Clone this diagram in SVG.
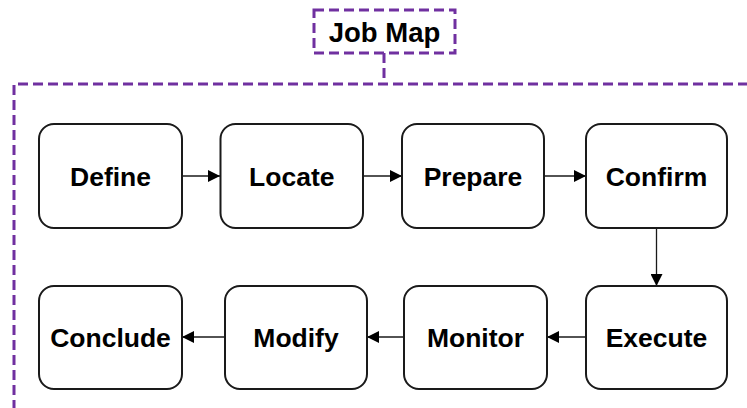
<svg xmlns="http://www.w3.org/2000/svg" width="747" height="408" viewBox="0 0 747 408">
<defs>
<style>
.box{fill:#fff;stroke:#1a1a1a;stroke-width:2}
.lbl{font-family:"Liberation Sans",Arial,sans-serif;font-weight:bold;font-size:26.5px;fill:#000;text-anchor:middle}
.dash{fill:none;stroke:#7030A0;stroke-width:3;stroke-dasharray:10 5}
.edge{fill:none;stroke:#1a1a1a;stroke-width:1.3}
</style>
<marker id="ah" viewBox="0 0 10 10" refX="10" refY="5" markerWidth="12" markerHeight="12" markerUnits="userSpaceOnUse" orient="auto">
<path d="M0,0 L10,5 L0,10 Z" fill="#000"/>
</marker>
</defs>
<rect width="747" height="408" fill="#fff"/>
<g id="frame">
<path class="dash" d="M14,410 L14,84 L750,84"/>
<path class="dash" d="M384,53 L384,84"/>
</g>
<g id="title">
<rect class="dash" x="314" y="10" width="141" height="43" fill="#fff"/>
<text class="lbl" x="384.5" y="41.5" style="font-size:27.5px">Job Map</text>
</g>
<g id="connectors">
<line class="edge" x1="182" y1="176" x2="220" y2="176" marker-end="url(#ah)"/>
<line class="edge" x1="363" y1="176" x2="402" y2="176" marker-end="url(#ah)"/>
<line class="edge" x1="544" y1="176" x2="586" y2="176" marker-end="url(#ah)"/>
<line class="edge" x1="656.5" y1="228" x2="656.5" y2="286" marker-end="url(#ah)"/>
<line class="edge" x1="586" y1="337" x2="547" y2="337" marker-end="url(#ah)"/>
<line class="edge" x1="404" y1="337" x2="367" y2="337" marker-end="url(#ah)"/>
<line class="edge" x1="225" y1="337" x2="182" y2="337" marker-end="url(#ah)"/>
</g>
<g id="define"><rect class="box" x="39" y="124" width="143" height="104" rx="15"/><text class="lbl" x="110.5" y="186">Define</text></g>
<g id="locate"><rect class="box" x="220.5" y="124" width="142.5" height="104" rx="15"/><text class="lbl" x="291.75" y="186">Locate</text></g>
<g id="prepare"><rect class="box" x="402" y="124" width="142" height="104" rx="15"/><text class="lbl" x="473" y="186">Prepare</text></g>
<g id="confirm"><rect class="box" x="586" y="124" width="141" height="104" rx="15"/><text class="lbl" x="656.5" y="186">Confirm</text></g>
<g id="execute"><rect class="box" x="586" y="286" width="141" height="103" rx="15"/><text class="lbl" x="656.5" y="346.5">Execute</text></g>
<g id="monitor"><rect class="box" x="404" y="286" width="143" height="103" rx="15"/><text class="lbl" x="475.5" y="346.5">Monitor</text></g>
<g id="modify"><rect class="box" x="225" y="286" width="142" height="103" rx="15"/><text class="lbl" x="296" y="346.5">Modify</text></g>
<g id="conclude"><rect class="box" x="39" y="286" width="143" height="103" rx="15"/><text class="lbl" x="110.5" y="346.5">Conclude</text></g>
</svg>
